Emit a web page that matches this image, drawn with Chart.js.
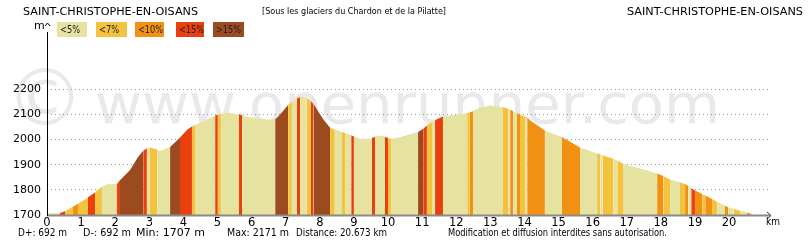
<!DOCTYPE html>
<html><head><meta charset="utf-8">
<script src="https://cdn.jsdelivr.net/npm/chart.js@4.4.0/dist/chart.umd.min.js"></script>
<style>html,body{margin:0;padding:0;background:#fff;overflow:hidden}#wrap{width:809px;height:240px;position:relative}</style>
</head><body><div id="wrap"><canvas id="c" width="809" height="240"></canvas></div>
<script>
// ---- data ----
const distanceKm = [0,0.38,0.53,0.76,0.91,1.20,1.41,1.61,1.76,2.05,2.14,2.43,2.67,2.82,2.93,3.02,3.23,3.31,3.61,3.81,3.90,4.11,4.25,4.34,4.69,4.93,5.01,5.10,5.28,5.63,5.72,5.87,6.25,6.54,6.69,6.77,7.07,7.18,7.33,7.42,7.51,7.62,7.74,7.82,8.09,8.30,8.44,8.59,8.65,8.74,8.92,9.00,9.18,9.47,9.53,9.62,9.68,9.85,9.91,10.00,10.09,10.35,10.88,11.03,11.14,11.29,11.38,11.61,11.82,12.32,12.40,12.49,12.61,12.99,13.37,13.52,13.58,13.67,13.78,13.87,14.02,14.08,14.16,14.60,14.84,15.10,15.63,16.13,16.22,16.30,16.60,16.72,16.89,17.01,17.48,17.89,18.07,18.27,18.56,18.71,18.80,18.89,19.00,19.21,19.30,19.50,19.65,19.88,19.97,20.14,20.32,20.53,20.62,20.673];
const elevationM = [1707,1708,1715,1733,1745,1770,1790,1812,1822,1823,1838,1878,1930,1955,1965,1968,1960,1954,1970,1996,2008,2039,2052,2058,2078,2095,2098,2101,2107,2099,2097,2089,2082,2078,2080,2089,2137,2150,2163,2168,2171,2165,2152,2140,2082,2047,2040,2033,2030,2026,2017,2012,2003,2003,2006,2011,2015,2015,2011,2006,2003,2009,2030,2043,2056,2070,2077,2091,2095,2104,2108,2112,2122,2135,2128,2122,2118,2112,2104,2098,2090,2088,2077,2036,2023,2010,1968,1944,1941,1937,1924,1917,1905,1898,1882,1865,1855,1841,1829,1823,1816,1806,1797,1783,1777,1764,1753,1737,1731,1724,1717,1710,1707,1707];
// grade class of the segment starting at each point (0:<5% 1:<7% 2:<10% 3:<15% 4:>15%)
const gradeClass = [0,3,1,2,1,3,1,0,0,3,4,4,4,3,0,1,0,0,4,4,3,3,1,0,0,3,1,0,0,3,0,0,0,0,4,4,1,0,3,0,0,1,3,4,4,1,0,0,1,0,3,0,0,0,3,0,0,0,3,1,0,0,4,3,1,0,3,0,0,1,2,0,0,0,1,0,2,0,2,1,0,2,2,0,0,2,0,1,0,1,0,1,0,0,0,2,1,0,1,2,0,3,2,1,2,1,0,2,0,1,0,2,0,0];
const gradeLabels = ['<5%','<7%','<10%','<15%','>15%'];
const gradeColors = ['#E6E29F','#F4C23D','#F29014','#E8400F','#9C4A20'];
const yTickValues = [1700,1800,1900,2000,2100,2200];
const xTickValues = [0,1,2,3,4,5,6,7,8,9,10,11,12,13,14,15,16,17,18,19,20];
const startName = 'SAINT-CHRISTOPHE-EN-OISANS';
const endName = 'SAINT-CHRISTOPHE-EN-OISANS';
const routeName = '[Sous les glaciers du Chardon et de la Pilatte]';
const statTexts = ['D+: 692 m','D-: 692 m','Min: 1707 m','Max: 2171 m','Distance: 20.673 km'];
const noticeText = 'Modification et diffusion interdites sans autorisation.';
const watermarkText = 'www.openrunner.com';

const FONT = '"DejaVu Sans", sans-serif';

function fitText(ctx, text, x, y, width) {
  const m = ctx.measureText(text).width;
  ctx.save();
  ctx.translate(x, y);
  ctx.scale(width / m, 1);
  ctx.fillText(text, 0, 0);
  ctx.restore();
}

const decor = {
  id: 'decor',
  beforeDraw(chart) {
    const ctx = chart.ctx;
    ctx.save();
    ctx.fillStyle = '#e9e9e9';
    ctx.textBaseline = 'alphabetic';
    ctx.font = '56px ' + FONT;
    fitText(ctx, watermarkText, 95, 123, 625);
    ctx.font = '78px ' + FONT;
    ctx.textAlign = 'center';
    ctx.fillText('\u00A9', 45, 125);
    ctx.restore();
  },
  afterDraw(chart) {
    const ctx = chart.ctx; const a = chart.chartArea;
    const ys = chart.scales.y;
    ctx.save();
    // x axis (gray)
    const by = ys.getPixelForValue(1700);
    ctx.strokeStyle = '#8a8a8a'; ctx.lineWidth = 2;
    ctx.beginPath(); ctx.moveTo(a.left, by + 0.5); ctx.lineTo(a.right, by + 0.5); ctx.stroke();
    ctx.lineWidth = 1; ctx.strokeStyle = '#333';
    ctx.beginPath(); ctx.moveTo(a.right - 3, by - 3); ctx.lineTo(a.right + 1, by + 0.5); ctx.lineTo(a.right - 3, by + 4); ctx.stroke();
    // y axis (black)
    ctx.strokeStyle = '#000'; ctx.lineWidth = 1;
    ctx.beginPath(); ctx.moveTo(a.left + 0.5, a.top + 7); ctx.lineTo(a.left + 0.5, by + 1); ctx.stroke();
    ctx.beginPath(); ctx.moveTo(a.left - 2, a.top + 1); ctx.lineTo(a.left + 0.5, a.top - 2); ctx.lineTo(a.left + 3, a.top + 1); ctx.stroke();
    ctx.fillStyle = '#000';
    ctx.font = '11px ' + FONT; ctx.textBaseline = 'middle'; ctx.textAlign = 'left';
    ctx.fillText('m', 34, a.top + 1);
    fitText(ctx, 'km', 766, 222, 14);
    // titles
    ctx.font = '11px ' + FONT;
    fitText(ctx, startName, 23, 12, 175);
    fitText(ctx, endName, 627, 12, 176);
    ctx.font = '9px ' + FONT;
    fitText(ctx, routeName, 262, 12, 184);
    // legend
    const boxX = [57, 96, 135, 176, 213];
    const boxW = [30, 31, 29, 28, 31];
    ctx.font = '11px ' + FONT;
    for (let i = 0; i < gradeLabels.length; i++) {
      ctx.fillStyle = gradeColors[i];
      ctx.fillRect(boxX[i], 22, boxW[i], 15);
      ctx.fillStyle = '#222';
      fitText(ctx, gradeLabels[i], boxX[i] + 3, 30, gradeLabels[i].length > 3 ? 25 : 20);
    }
    // stats
    ctx.fillStyle = '#000';
    ctx.font = '11px ' + FONT;
    const sx = [18, 83, 136, 227, 296];
    const sw = [49, 48, 69, 62, 91];
    statTexts.forEach((t, i) => fitText(ctx, t, sx[i], 233, sw[i]));
    ctx.font = '10px ' + FONT;
    fitText(ctx, noticeText, 448, 233, 219);
    ctx.restore();
  }
};

const points = distanceKm.map((d, i) => ({x: d, y: elevationM[i]}));

new Chart(document.getElementById('c'), {
  type: 'line',
  data: { datasets: [{
    data: points,
    borderWidth: 0,
    borderColor: 'rgba(0,0,0,0)',
    pointRadius: 0,
    tension: 0,
    fill: 'start',
    backgroundColor: gradeColors[0],
    segment: { backgroundColor: c => gradeColors[gradeClass[c.p0DataIndex]] }
  }]},
  options: {
    responsive: false, animation: false, devicePixelRatio: 1,
    layout: { padding: { top: 25, right: 39, left: 0, bottom: 0 } },
    plugins: { legend: { display: false }, tooltip: { enabled: false } },
    scales: {
      x: {
        type: 'linear', min: 0, max: 21.2,
        afterBuildTicks: s => { s.ticks = xTickValues.map(v => ({value: v})); },
        afterFit: s => { s.height = 25; },
        grid: { display: false, drawTicks: false },
        border: { display: false },
        ticks: { color: '#000', font: { family: 'DejaVu Sans', size: 11.5 }, padding: 1, maxRotation: 0, autoSkip: false, callback: v => String(v) }
      },
      y: {
        min: 1700, max: 2455,
        afterBuildTicks: s => { s.ticks = yTickValues.map(v => ({value: v})); },
        afterFit: s => { s.width = 47; },
        grid: { color: c => c.tick && c.tick.value === 1700 ? 'rgba(0,0,0,0)' : '#9a9a9a', drawTicks: false, lineWidth: 1 },
        border: { display: false, dash: [1, 3] },
        ticks: { color: '#000', font: { family: 'DejaVu Sans', size: 11 }, padding: 6, autoSkip: false, callback: v => String(v) }
      }
    }
  },
  plugins: [decor]
});
</script></body></html>
